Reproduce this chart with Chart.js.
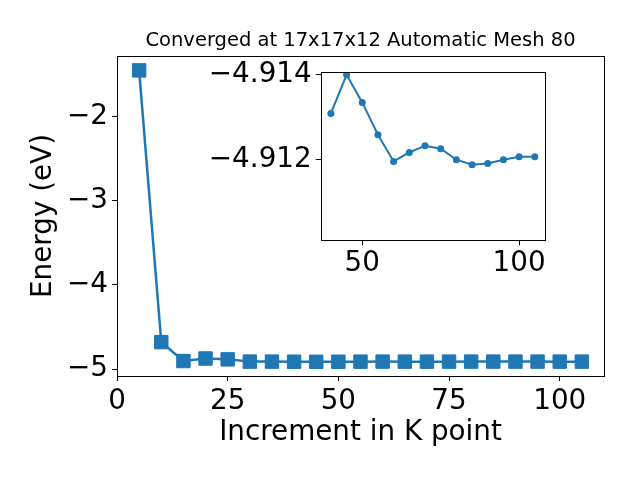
<!DOCTYPE html>
<html>
<head>
<meta charset="utf-8">
<script src="https://cdn.jsdelivr.net/npm/chart.js@4"></script>
<style>
body { margin: 0; background: #fff; }
#wrap { position: relative; width: 640px; height: 480px; }
#main { position: absolute; left: 0; top: 0; }
#inset { position: absolute; left: 190px; top: 40px; }
</style>
</head>
<body>
<div id="wrap">
<canvas id="main" width="640" height="480"></canvas>
<canvas id="inset" width="370" height="245"></canvas>
</div>
<script>
const kPoints = [5, 10, 15, 20, 25, 30, 35, 40, 45, 50, 55, 60, 65, 70, 75, 80, 85, 90, 95, 100, 105];
const energy = [-1.448, -4.68, -4.905, -4.875, -4.885, -4.912, -4.912,
    -4.91309, -4.9140, -4.91335, -4.91259, -4.91196, -4.91217, -4.91233,
    -4.91226, -4.91200, -4.91188, -4.91191, -4.91200, -4.91207, -4.91207];
const xTicks = [0, 25, 50, 75, 100];
const yTicks = [-5, -4, -3, -2];
const insetStart = 7; // inset shows k = 40 onward
const insetXTicks = [50, 100];
const insetYTicks = [-4.914, -4.912];

const blue = '#1f77b4';
const font = 'DejaVu Sans';
const minus = v => (v < 0 ? '\u2212' : '') + Math.abs(v);

const frame = {
    id: 'frame',
    afterDraw(chart) {
        const a = chart.chartArea, ctx = chart.ctx;
        ctx.save();
        ctx.strokeStyle = '#000';
        ctx.lineWidth = 1;
        ctx.strokeRect(Math.round(a.left) + 0.5, Math.round(a.top) + 0.5,
            Math.round(a.right - a.left), Math.round(a.bottom - a.top));
        ctx.restore();
    }
};

function axis(extra) {
    return Object.assign({
        type: 'linear',
        border: { display: false },
        grid: { display: true, drawOnChartArea: false, tickLength: 5, color: '#000' },
    }, extra);
}

new Chart(document.getElementById('main'), {
    type: 'line',
    data: {
        datasets: [{
            data: kPoints.map((k, i) => ({ x: k, y: energy[i] })),
            borderColor: blue,
            backgroundColor: blue,
            borderWidth: 2.5,
            pointStyle: 'rect',
            pointRadius: 9.5,
            pointBorderWidth: 1,
            pointBackgroundColor: blue,
            tension: 0
        }]
    },
    options: {
        responsive: false,
        animation: false,
        layout: { padding: { left: 0, right: 36, top: 0, bottom: 0 } },
        plugins: {
            legend: { display: false },
            tooltip: { enabled: false },
            title: {
                display: true,
                fullSize: false,
                text: 'Converged at 17x17x12 Automatic Mesh 80',
                color: '#000',
                font: { family: font, size: 19.5, weight: 'normal' },
                padding: { top: 28.8, bottom: 3.8 }
            }
        },
        scales: {
            x: axis({
                min: 0, max: 110,
                afterBuildTicks: s => { s.ticks = xTicks.map(v => ({ value: v })); },
                afterFit: s => { s.height = 104; },
                ticks: { color: '#000', font: { family: font, size: 27.8 }, padding: 4, maxRotation: 0, autoSkip: false, callback: v => minus(v) },
                title: { display: true, text: 'Increment in K point', color: '#000', font: { family: font, size: 27.8 }, padding: { top: 0, bottom: 31 } }
            }),
            y: axis({
                min: -5.083, max: -1.277,
                afterBuildTicks: s => { s.ticks = yTicks.map(v => ({ value: v })); },
                afterFit: s => { s.width = 117; },
                ticks: { color: '#000', font: { family: font, size: 27.8 }, padding: 4, autoSkip: false, callback: v => minus(v) },
                title: { display: true, text: 'Energy (eV)', color: '#000', font: { family: font, size: 27.8 }, padding: { top: 27, bottom: 0 } }
            })
        }
    },
    plugins: [frame]
});

new Chart(document.getElementById('inset'), {
    type: 'line',
    data: {
        datasets: [{
            data: kPoints.slice(insetStart).map((k, i) => ({ x: k, y: energy[insetStart + i] })),
            borderColor: blue,
            backgroundColor: blue,
            borderWidth: 2,
            pointStyle: 'circle',
            pointRadius: 3.5,
            pointBorderWidth: 0,
            pointBackgroundColor: blue,
            tension: 0
        }]
    },
    options: {
        responsive: false,
        animation: false,
        layout: { padding: { left: 0, right: 15, top: 32.3, bottom: 0 } },
        plugins: {
            legend: { display: false },
            tooltip: { enabled: false },
            title: { display: false }
        },
        scales: {
            x: axis({
                min: 36.75, max: 108.25,
                afterBuildTicks: s => { s.ticks = insetXTicks.map(v => ({ value: v })); },
                afterFit: s => { s.height = 44.7; },
                ticks: { color: '#000', font: { family: font, size: 27.8 }, padding: 2, maxRotation: 0, autoSkip: false, callback: v => minus(v) }
            }),
            y: axis({
                reverse: true,
                min: -4.91406, max: -4.9101,
                afterBuildTicks: s => { s.ticks = insetYTicks.map(v => ({ value: v })); },
                afterFit: s => { s.width = 130.7; },
                ticks: { color: '#000', font: { family: font, size: 27.8 }, padding: 4, autoSkip: false, callback: v => '\u2212' + Math.abs(v).toFixed(3) }
            })
        }
    },
    plugins: [frame]
});
</script>
</body>
</html>
